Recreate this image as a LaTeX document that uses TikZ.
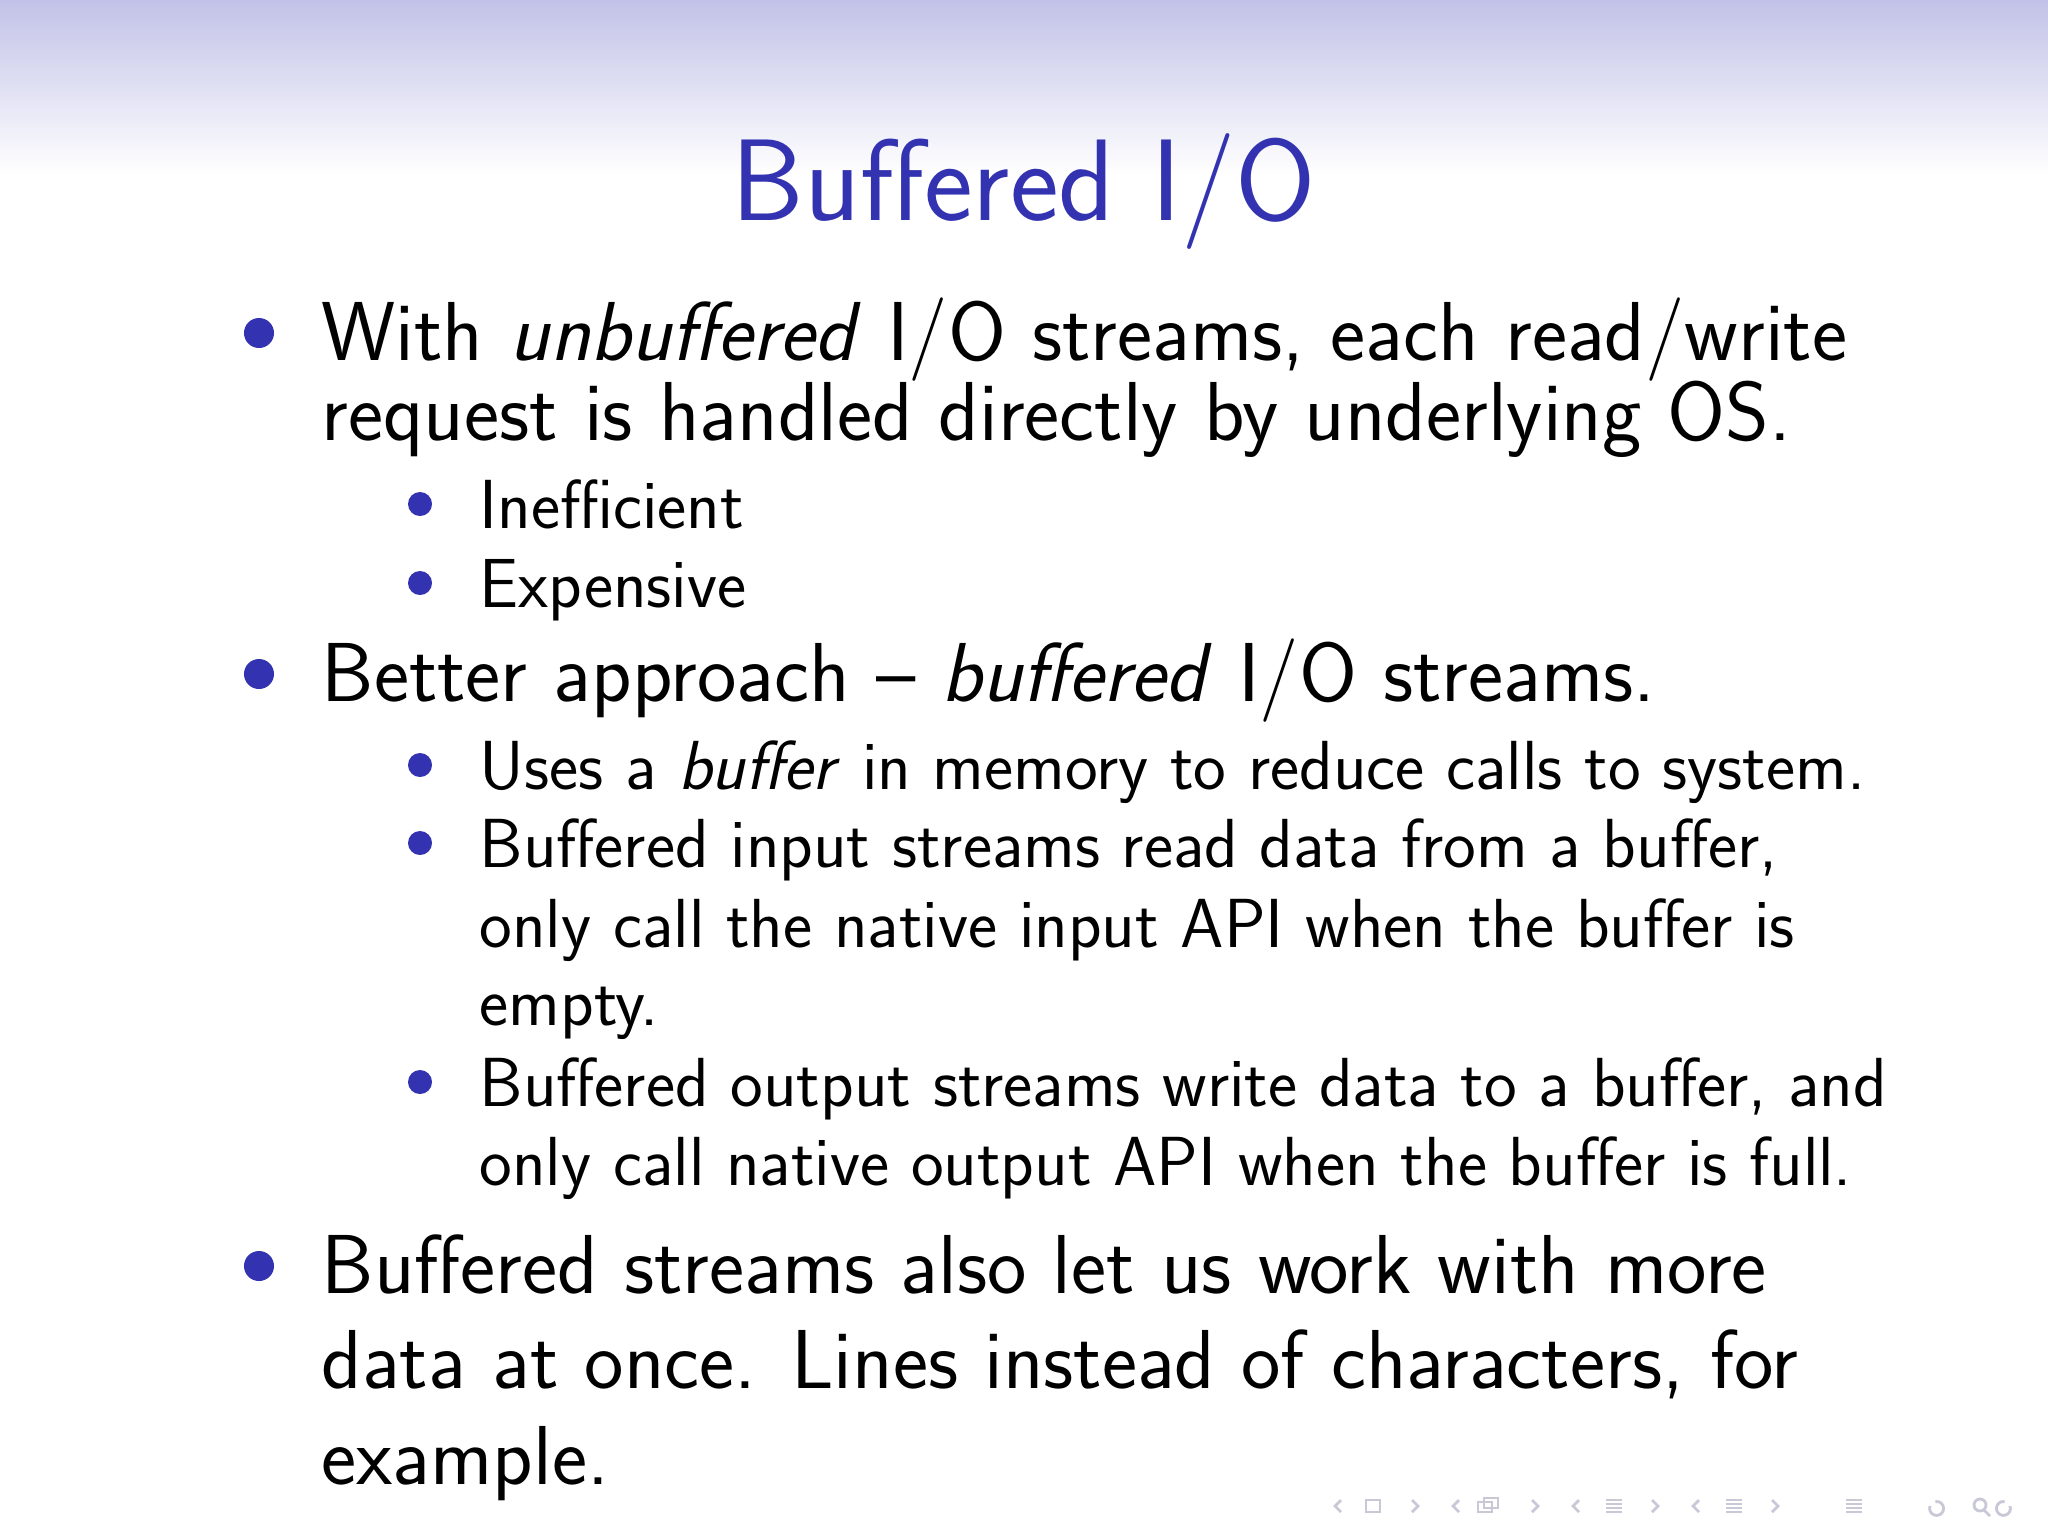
\documentclass[tikz,border=0pt]{standalone}
\usepackage{fontspec}
\definecolor{bblue}{RGB}{51,51,178}
\definecolor{navg}{RGB}{200,200,215}
\tikzset{
 big/.style={anchor=base west,inner sep=0pt,font=\sffamily\fontsize{23.8}{29}\selectfont},
 small/.style={anchor=base west,inner sep=0pt,font=\sffamily\fontsize{19.75}{24}\selectfont},
 bul/.style={circle,fill=bblue,inner sep=0pt,minimum size=0.30cm},
 sbul/.style={circle,fill=bblue,inner sep=0pt,minimum size=0.24cm},
}
\begin{document}
\begin{tikzpicture}[x=0.01cm,y=-0.01cm]
\useasboundingbox (0,0) rectangle (2048,1536);
\shade[top color=bblue!30,bottom color=white] (0,0) rectangle (2048,175);
\node[anchor=base,inner sep=0pt,text=bblue,font=\sffamily\fontsize{33}{40}\selectfont] (title) at (1024,220) {Buffered I/O};
% level 1
\node[bul] (b1) at (259,333) {};
\node[big] (t1a) at (321,360) {With \textit{unbuffered} I/O streams, each read/write};
\node[big] (t1b) at (321,440) {request is handled directly by underlying OS.};
\node[sbul] (s1) at (420,504) {};
\node[small] (u1) at (479,528) {Inefficient};
\node[sbul] (s2) at (420,583) {};
\node[small] (u2) at (479,607) {Expensive};
\node[bul] (b2) at (259,674) {};
\node[big] (t2) at (321,701) {Better approach -- \textit{buffered} I/O streams.};
\node[sbul] (s3) at (420,765) {};
\node[small] (u3) at (479,789) {Uses a \textit{buffer} in memory to reduce calls to system.};
\node[sbul] (s4) at (420,843) {};
\node[small] (u4a) at (479,867) {Buffered input streams read data from a buffer,};
\node[small] (u4b) at (479,947) {only call the native input API when the buffer is};
\node[small] (u4c) at (479,1025) {empty.};
\node[sbul] (s5) at (420,1082) {};
\node[small] (u5a) at (479,1106) {Buffered output streams write data to a buffer, and};
\node[small] (u5b) at (479,1185) {only call native output API when the buffer is full.};
\node[bul] (b3) at (259,1266) {};
\node[big] (t3a) at (321,1293) {Buffered streams also let us work with more};
\node[big] (t3b) at (321,1388) {data at once. Lines instead of characters, for};
\node[big] (t3c) at (321,1484) {example.};
% navigation symbols
\begin{scope}[navg,line width=0.8pt]
\foreach \x in {1335,1453,1573,1693}{
 \draw (\x+6,1500) -- (\x,1506) -- (\x+6,1512);}
\foreach \x in {1412,1532,1652,1772}{
 \draw (\x,1500) -- (\x+6,1506) -- (\x,1512);}
\draw (1366,1500) rectangle (1380,1512);
\draw (1478,1502) rectangle (1492,1512); \draw (1484,1498) rectangle (1498,1508);
\foreach \x in {1606,1726,1846}{\foreach \d in {0,4,8,12}{\draw (\x,1500+\d) -- (\x+16,1500+\d);}}
\draw (1930,1506) arc (200:-100:7);
\draw (1980,1505) circle (6); \draw (1984,1510) -- (1990,1516);
\draw (2010,1506) arc (-20:280:7);
\end{scope}
\end{tikzpicture}
\end{document}
